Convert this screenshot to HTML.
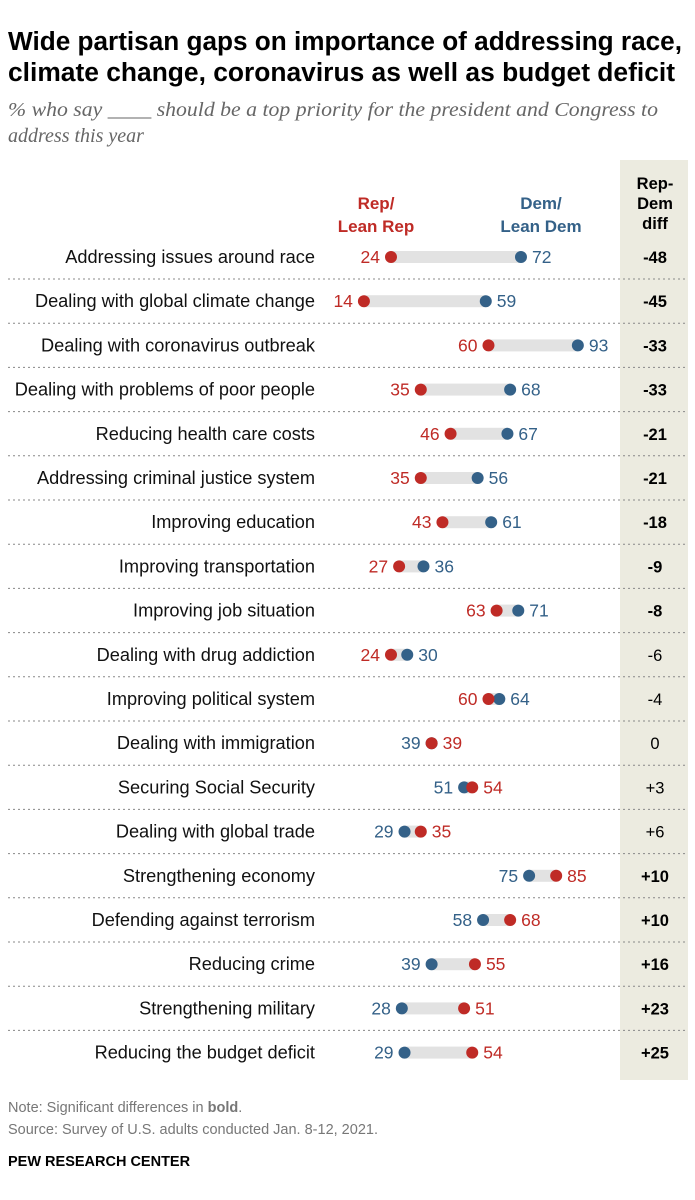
<!DOCTYPE html>
<html><head><meta charset="utf-8"><style>
body{margin:0;background:#fff;font-family:"Liberation Sans",Arial,sans-serif;}
#c{position:relative;width:695px;height:1200px;overflow:hidden;}
</style></head><body>
<div id="c">
<svg id="s" width="695" height="1200" xmlns="http://www.w3.org/2000/svg">
<rect x="620" y="160" width="68" height="920" fill="#ecebe0"/>
<text x="8" y="50" font-size="25.5" font-weight="bold" fill="#000" textLength="674" lengthAdjust="spacingAndGlyphs">Wide partisan gaps on importance of addressing race,</text>
<text x="8" y="81" font-size="25.5" font-weight="bold" fill="#000" textLength="667" lengthAdjust="spacingAndGlyphs">climate change, coronavirus as well as budget deficit</text>
<text x="8" y="116" font-size="20" font-style="italic" fill="#666" font-family="Liberation Serif,serif" textLength="650" lengthAdjust="spacingAndGlyphs">% who say ____ should be a top priority for the president and Congress to</text>
<text x="8" y="142" font-size="20" font-style="italic" fill="#666" font-family="Liberation Serif,serif">address this year</text>
<text x="376" y="209" font-size="17" font-weight="bold" fill="#bf2b26" text-anchor="middle">Rep/</text>
<text x="376" y="232" font-size="17" font-weight="bold" fill="#bf2b26" text-anchor="middle">Lean Rep</text>
<text x="541" y="209" font-size="17" font-weight="bold" fill="#346188" text-anchor="middle">Dem/</text>
<text x="541" y="232" font-size="17" font-weight="bold" fill="#346188" text-anchor="middle">Lean Dem</text>
<text x="655" y="189" font-size="16.5" font-weight="bold" text-anchor="middle">Rep-</text>
<text x="655" y="209" font-size="16.5" font-weight="bold" text-anchor="middle">Dem</text>
<text x="655" y="229" font-size="16.5" font-weight="bold" text-anchor="middle">diff</text>
<g id="rows"></g>
<text x="8" y="1112" font-size="14.5" fill="#777">Note: Significant differences in <tspan font-weight="bold">bold</tspan>.</text>
<text x="8" y="1134" font-size="14.5" fill="#777">Source: Survey of U.S. adults conducted Jan. 8-12, 2021.</text>
<text x="8" y="1166" font-size="14.5" font-weight="bold" fill="#000">PEW RESEARCH CENTER</text>
</svg>
</div>
<script>
const categories=["Addressing issues around race","Dealing with global climate change","Dealing with coronavirus outbreak","Dealing with problems of poor people","Reducing health care costs","Addressing criminal justice system","Improving education","Improving transportation","Improving job situation","Dealing with drug addiction","Improving political system","Dealing with immigration","Securing Social Security","Dealing with global trade","Strengthening economy","Defending against terrorism","Reducing crime","Strengthening military","Reducing the budget deficit"];
const repValues=[24,14,60,35,46,35,43,27,63,24,60,39,54,35,85,68,55,51,54];
const demValues=[72,59,93,68,67,56,61,36,71,30,64,39,51,29,75,58,39,28,29];
const diffLabels=["-48","-45","-33","-33","-21","-21","-18","-9","-8","-6","-4","0","+3","+6","+10","+10","+16","+23","+25"];
const significant=[1,1,1,1,1,1,1,1,1,0,0,0,0,0,1,1,1,1,1];
const NS="http://www.w3.org/2000/svg";
const xs=v=>326+v*2.708;
const ys=i=>257+i*44.2;
const g=document.getElementById('rows');
function mk(t,a){const e=document.createElementNS(NS,t);for(const k in a)e.setAttribute(k,a[k]);return e;}
categories.forEach((c,i)=>{
  const y=ys(i),r=repValues[i],d=demValues[i];
  let t=mk('text',{x:315,y:y+6,'font-size':18.2,'text-anchor':'end',fill:'#111'});t.textContent=c;
  
  g.appendChild(t);
  const lo=Math.min(r,d),hi=Math.max(r,d);
  let b=mk('rect',{x:xs(lo),y:y-6,width:xs(hi)-xs(lo),height:12,fill:'#e2e2e2'});
  
  g.appendChild(b);
  const demLeft=d<=r;
  [[d,'#346188','dem',demLeft],[r,'#bf2b26','rep',!demLeft]].forEach(([v,col,k,left])=>{
    let ci=mk('circle',{cx:xs(v),cy:y,r:6,fill:col});
    
    g.appendChild(ci);
    let l=mk('text',{x:left?xs(v)-11:xs(v)+11,y:y+6,'font-size':17.5,fill:col,'text-anchor':left?'end':'start'});
    l.textContent=v;
    
    g.appendChild(l);
  });
  let dl=mk('text',{x:655,y:y+6,'font-size':16.5,'text-anchor':'middle','font-weight':significant[i]?'bold':'normal',fill:'#000'});
  dl.textContent=diffLabels[i];
  
  g.appendChild(dl);
  if(i<categories.length-1){
    let ln=mk('line',{x1:8,x2:688,y1:y+22,y2:y+22,stroke:'#888','stroke-width':1,'stroke-dasharray':'2,3'});
    
    g.appendChild(ln);
  }
});
</script>
</body></html>
